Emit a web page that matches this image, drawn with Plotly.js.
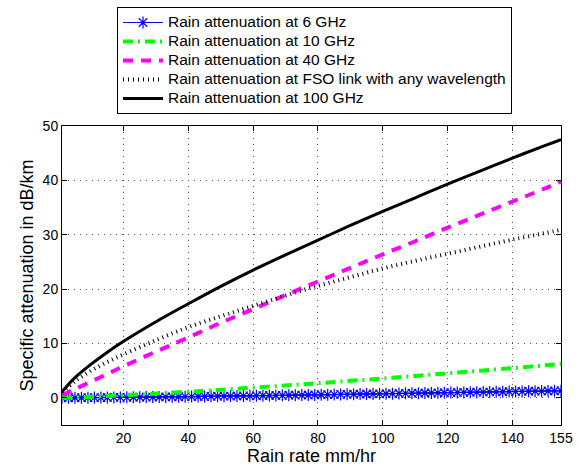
<!DOCTYPE html>
<html>
<head>
<meta charset="utf-8">
<script src="https://cdn.plot.ly/plotly-3.0.1.min.js"></script>
<style>
html,body{margin:0;padding:0;background:#fff;}
#chart{width:579px;height:469px;}
.legendtext{font-size:15.5px !important;}
</style>
</head>
<body>
<div id="chart"></div>
<script>
// Rain rate (mm/hr) sample points for the smooth curves
const rainRate = [1, 5, 10, 15, 20, 30, 40, 50, 60, 70, 80, 90, 100, 110, 120, 130, 140, 150, 155];
const att10GHz  = [0.01, 0.08, 0.19, 0.32, 0.46, 0.78, 1.12, 1.48, 1.87, 2.27, 2.69, 3.12, 3.57, 4.03, 4.50, 4.98, 5.47, 5.97, 6.25];
const att40GHz  = [0.5, 1.6, 3.0, 4.4, 5.8, 8.5, 11.1, 13.8, 16.3, 18.9, 21.4, 23.9, 26.4, 28.8, 31.3, 33.7, 36.1, 38.5, 39.8];
const attFSO    = [1.0, 3.0, 5.0, 6.6, 8.0, 10.6, 13.0, 15.0, 16.9, 18.8, 20.6, 22.2, 23.8, 25.2, 26.5, 27.8, 29.1, 30.3, 30.9];
const att100GHz = [1.1, 3.7, 6.2, 8.4, 10.4, 14.0, 17.3, 20.5, 23.5, 26.3, 29.0, 31.7, 34.3, 36.8, 39.3, 41.7, 44.1, 46.4, 47.5];

// 6 GHz series, densely marked
const rainRate6 = [1,3,5,7,9,11,13,15,17,19,21,23,25,27,29,31,33,35,37,39,41,43,45,47,49,51,53,55,57,59,61,63,65,67,69,71,73,75,77,79,81,83,85,87,89,91,93,95,97,99,101,103,105,107,109,111,113,115,117,119,121,123,125,127,129,131,133,135,137,139,141,143,145,147,149,151,153,155];
const att6GHz = [0.00,0.01,0.01,0.02,0.03,0.04,0.05,0.06,0.07,0.08,0.09,0.10,0.11,0.13,0.14,0.15,0.17,0.18,0.19,0.21,0.22,0.24,0.25,0.27,0.29,0.30,0.32,0.33,0.35,0.37,0.38,0.40,0.42,0.43,0.45,0.47,0.49,0.51,0.52,0.54,0.56,0.58,0.60,0.62,0.64,0.66,0.68,0.70,0.72,0.73,0.75,0.77,0.79,0.82,0.84,0.86,0.88,0.90,0.92,0.94,0.96,0.98,1.00,1.02,1.04,1.06,1.08,1.10,1.12,1.14,1.16,1.18,1.20,1.22,1.24,1.26,1.28,1.30];

const seriesNames = [
  'Rain attenuation at 6 GHz',
  'Rain attenuation at 10 GHz',
  'Rain attenuation at 40 GHz',
  'Rain attenuation at FSO link with any wavelength',
  'Rain attenuation at 100 GHz'
];
const xTickVals = [20, 40, 60, 80, 100, 120, 140, 155];
const yTickVals = [0, 10, 20, 30, 40, 50];

const font = 'Liberation Sans, Arial, Helvetica, sans-serif';

const traces = [
  {x: rainRate6, y: att6GHz, name: seriesNames[0], mode: 'lines+markers',
   line: {color: '#0000ff', width: 1},
   marker: {symbol: 'asterisk-open', size: 10, color: '#0000ff', line: {color: '#0000ff', width: 1.2}}},
  {x: rainRate, y: att10GHz, name: seriesNames[1], mode: 'lines',
   line: {color: '#00ff00', width: 4, dash: '10px,5px,2px,5px', shape: 'spline'}},
  {x: rainRate, y: att40GHz, name: seriesNames[2], mode: 'lines',
   line: {color: '#ff00ff', width: 4, dash: '10px,8px', shape: 'spline'}},
  {x: rainRate, y: attFSO, name: seriesNames[3], mode: 'lines',
   line: {color: '#000000', width: 4, dash: '1px,4px', shape: 'spline'}},
  {x: rainRate, y: att100GHz, name: seriesNames[4], mode: 'lines',
   line: {color: '#000000', width: 3, shape: 'spline'}}
];

const layout = {
  width: 579, height: 469,
  margin: {l: 62, r: 18, t: 126, b: 44, autoexpand: false},
  paper_bgcolor: '#ffffff', plot_bgcolor: '#ffffff',
  font: {family: font, size: 14, color: '#000'},
  showlegend: true,
  legend: {x: 0.506, xanchor: 'center', y: 1.398, yanchor: 'top',
    bordercolor: '#000', borderwidth: 1, bgcolor: '#fff',
    font: {family: font, size: 11.8, color: '#000'}, tracegroupgap: 0, itemwidth: 40},
  xaxis: {range: [1, 155], tickvals: xTickVals, ticktext: xTickVals.map(String),
    ticks: 'inside', ticklen: 5, tickcolor: '#000', mirror: 'ticks', showline: true,
    linecolor: '#000', linewidth: 1, showgrid: true, gridcolor: '#555', griddash: '1px,5px', gridwidth: 1,
    zeroline: false, tickfont: {size: 14}, automargin: false,
    title: {text: 'Rain rate mm/hr', font: {size: 18}, standoff: 2}},
  yaxis: {range: [-5, 50], tickvals: yTickVals,
    ticks: 'inside', ticklen: 5, tickcolor: '#000', mirror: 'ticks', showline: true,
    linecolor: '#000', linewidth: 1, showgrid: true, gridcolor: '#555', griddash: '1px,5px', gridwidth: 1,
    zeroline: false, tickfont: {size: 14}, automargin: false,
    title: {text: 'Specific attenuation in dB/km', font: {size: 18}, standoff: 4}}
};

Plotly.newPlot('chart', traces, layout, {displayModeBar: false, staticPlot: true});
</script>
</body>
</html>
